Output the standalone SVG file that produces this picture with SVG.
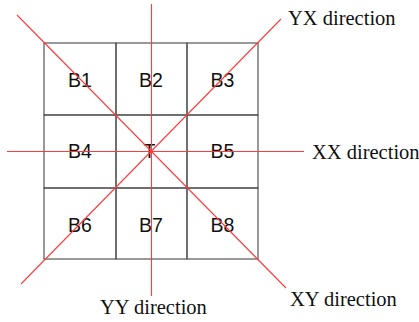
<svg xmlns="http://www.w3.org/2000/svg" width="419" height="322" viewBox="0 0 419 322">
<style>
.cell{fill:none;stroke:#555;stroke-width:1.2}
.lbl{font-family:"Liberation Sans",Arial,sans-serif;font-size:19.5px;fill:#111;text-anchor:middle}
.dir{font-family:"Liberation Serif","Times New Roman",serif;font-size:20.5px;fill:#111}
.red{stroke:#ff3b3b;stroke-width:1.1;fill:none}
</style>
<rect width="419" height="322" fill="#fff"/>
<g id="B1"><rect class="cell" x="44" y="43" width="72" height="72"/><text class="lbl" x="80" y="87">B1</text></g>
<g id="B2"><rect class="cell" x="116" y="43" width="71" height="72"/><text class="lbl" x="151" y="87">B2</text></g>
<g id="B3"><rect class="cell" x="187" y="43" width="71" height="72"/><text class="lbl" x="222.5" y="87">B3</text></g>
<g id="B4"><rect class="cell" x="44" y="115" width="72" height="73"/><text class="lbl" x="80" y="158">B4</text></g>
<g id="T"><rect class="cell" x="116" y="115" width="71" height="73"/><text class="lbl" x="149.5" y="157.5" font-size="18">T</text></g>
<g id="B5"><rect class="cell" x="187" y="115" width="71" height="73"/><text class="lbl" x="222.5" y="158">B5</text></g>
<g id="B6"><rect class="cell" x="44" y="188" width="72" height="71"/><text class="lbl" x="80" y="232">B6</text></g>
<g id="B7"><rect class="cell" x="116" y="188" width="71" height="71"/><text class="lbl" x="151" y="232">B7</text></g>
<g id="B8"><rect class="cell" x="187" y="188" width="71" height="71"/><text class="lbl" x="222.5" y="232">B8</text></g>
<g id="connectors">
<line class="red" x1="151.5" y1="4" x2="151.5" y2="296"/>
<line class="red" x1="7" y1="151.5" x2="304" y2="151.5"/>
<line class="red" x1="17" y1="15" x2="286" y2="288"/>
<line class="red" x1="281" y1="19" x2="21" y2="284"/>
</g>
<g id="labels">
<text class="dir" x="288" y="25">YX direction</text>
<text class="dir" x="312" y="159">XX direction</text>
<text class="dir" x="100" y="313.5">YY direction</text>
<text class="dir" x="290" y="306">XY direction</text>
</g>
</svg>
